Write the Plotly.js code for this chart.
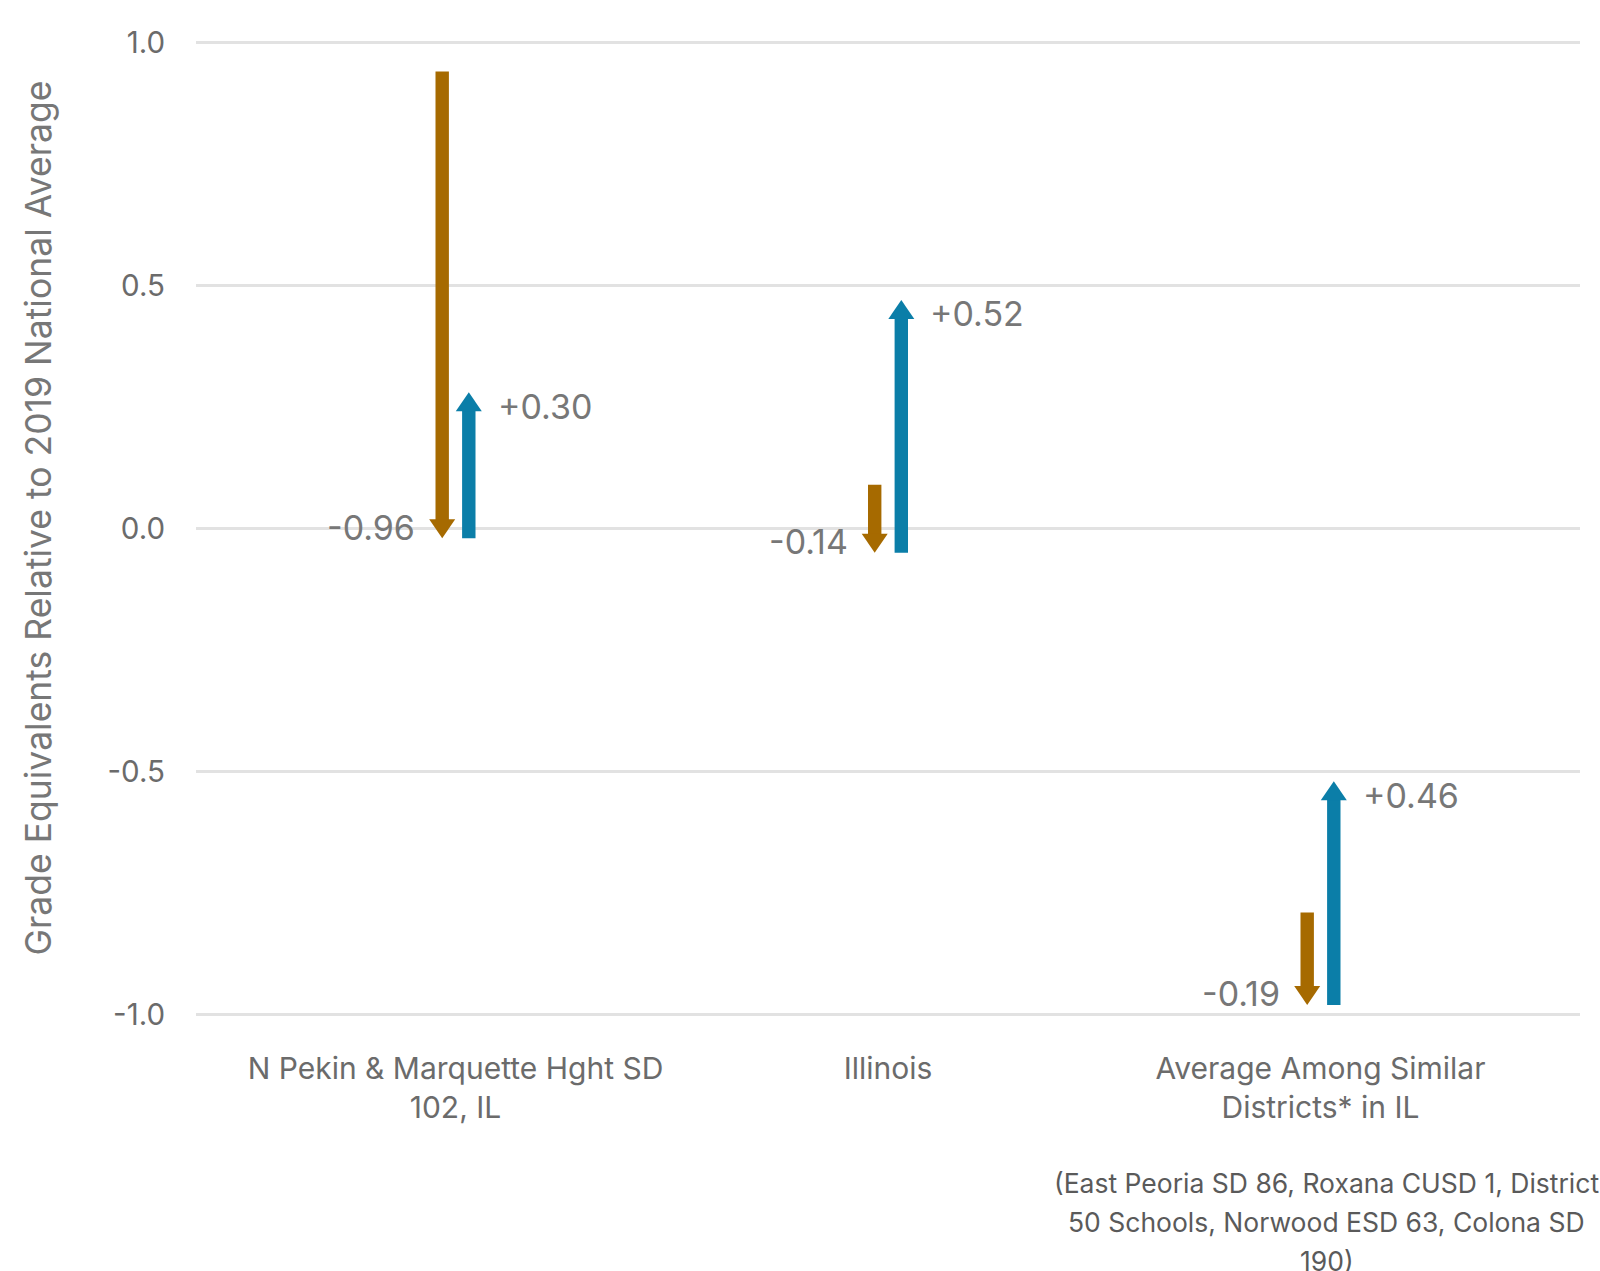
<!DOCTYPE html>
<html><head><meta charset="utf-8">
<script src="https://cdn.plot.ly/plotly-3.0.1.min.js"></script>
<style>html,body{margin:0;padding:0;background:#fff}#chart{width:1600px;height:1271px}</style>
</head><body><div id="chart"></div>
<script>
// ---- data ----
const categories = ["N Pekin & Marquette Hght SD<br>102, IL", "Illinois", "Average Among Similar<br>Districts* in IL"];
const startValues = [0.94, 0.09, -0.79];
const firstChange = [-0.96, -0.14, -0.19];
const secondChange = [0.30, 0.52, 0.46];
const yTickValues = [-1, -0.5, 0, 0.5, 1];
const yTickLabels = ["-1.0", "-0.5", "0.0", "0.5", "1.0"];
const yTitle = "Grade Equivalents Relative to 2019 National Average";
const noteLines = ["(East Peoria SD 86, Roxana CUSD 1, District", "50 Schools, Norwood ESD 63, Colona SD", "190)"];

// ---- layout constants ----
const W = 1600, H = 1271;
const margin = {l: 196, r: 20, t: 18, b: 232};
const yRange = [-1.05, 1.05];
const xRange = [-0.6, 2.6];
const plotH = H - margin.t - margin.b;
const plotW = W - margin.l - margin.r;
const pxPerUnit = plotH / (yRange[1] - yRange[0]);
const pxPerCat = plotW / (xRange[1] - xRange[0]);
const offsetPx = 13.3;
const shaftHalf = 6.7, headHalf = 13, headLen = 19;
const ORANGE = '#A66A00', BLUE = '#0B7EA8', LABEL = '#777777', TICK = '#6b6b6b';
const FONT = 'Inter, "Liberation Sans", Arial, sans-serif';

const shapes = [];
const annotations = [];

function arrow(xPos, y0, y1, color) {
  const dir = y1 < y0 ? -1 : 1;
  const base = y1 - dir * (headLen - 1) / pxPerUnit;
  shapes.push({type: 'rect', xref: 'x', yref: 'y', xsizemode: 'pixel', xanchor: xPos,
    x0: -shaftHalf, x1: shaftHalf, y0: y0, y1: base, line: {width: 0}, fillcolor: color, layer: 'above'});
  const by = dir < 0 ? headLen : -headLen;
  shapes.push({type: 'path', xref: 'x', yref: 'y', xsizemode: 'pixel', ysizemode: 'pixel',
    xanchor: xPos, yanchor: y1, path: `M${-headHalf},${by} L${headHalf},${by} L0,0 Z`,
    line: {width: 0}, fillcolor: color, layer: 'above'});
}
function fmt(v) { return (v > 0 ? '+' : '') + v.toFixed(2); }

const off = offsetPx / pxPerCat;
for (let i = 0; i < categories.length; i++) {
  const s = startValues[i];
  const m = s + firstChange[i];
  const e = m + secondChange[i];
  arrow(i - off, s, m, ORANGE);
  arrow(i + off, m, e, BLUE);
  annotations.push({x: i - off, y: m, xref: 'x', yref: 'y', text: fmt(firstChange[i]), showarrow: false,
    xanchor: 'right', yanchor: 'middle', xshift: -25, yshift: 11, font: {family: FONT, size: 34, color: LABEL}});
  annotations.push({x: i + off, y: e, xref: 'x', yref: 'y', text: fmt(secondChange[i]), showarrow: false,
    xanchor: 'left', yanchor: 'middle', xshift: 27, yshift: -14, font: {family: FONT, size: 34, color: LABEL}});
}
noteLines.forEach((t, k) => {
  annotations.push({x: 0.817, y: -0.141, xref: 'paper', yref: 'paper', text: t, showarrow: false,
    xanchor: 'center', yanchor: 'middle', yshift: -39 * k, font: {family: FONT, size: 26.5, color: '#5a5a5a'}});
});
// y-axis title
annotations.push({x: -0.114, y: 0.51, xref: 'paper', yref: 'paper', text: yTitle, showarrow: false,
  textangle: -90, xanchor: 'center', yanchor: 'middle', font: {family: FONT, size: 35.5, color: LABEL}});

const data = [{type: 'scatter', x: [0, 1, 2], y: startValues, mode: 'none', hoverinfo: 'skip', showlegend: false}];

const layout = {
  width: W, height: H, margin: margin, paper_bgcolor: '#fff', plot_bgcolor: '#fff',
  showlegend: false, font: {family: FONT, color: TICK},
  xaxis: {range: xRange, tickvals: [0, 1, 2], ticktext: categories, showgrid: false, zeroline: false,
    showline: false, ticks: '', ticklabelstandoff: 9, tickfont: {family: FONT, size: 30, color: TICK}, fixedrange: true},
  yaxis: {range: yRange, tickvals: yTickValues, ticktext: yTickLabels, showgrid: true, gridcolor: '#e2e2e2',
    gridwidth: 2.5, zeroline: false, showline: false, ticks: '', ticklabelstandoff: 30,
    tickfont: {family: FONT, size: 29.5, color: TICK}, fixedrange: true},
  shapes: shapes, annotations: annotations
};
Plotly.newPlot('chart', data, layout, {displayModeBar: false, staticPlot: true});
</script></body></html>
